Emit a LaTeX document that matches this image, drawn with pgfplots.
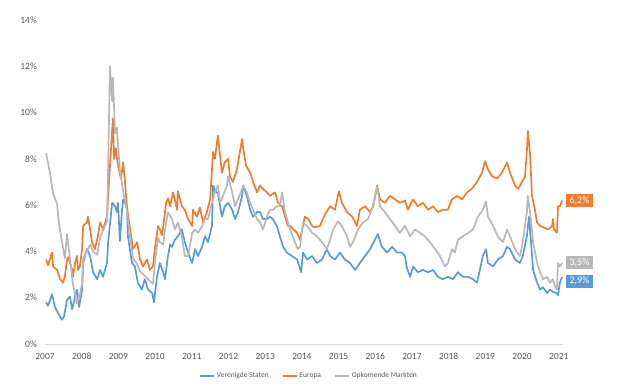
\documentclass[border=0pt]{standalone}
\usepackage{pgfplots}
\usepackage{pgfplotstable}
\pgfplotsset{compat=1.18}
\usepackage{fontspec}
\setmainfont{Carlito}
\definecolor{cblue}{HTML}{5B9BD5}
\definecolor{corange}{HTML}{ED7D31}
\definecolor{cgray}{HTML}{B8B8B8}
\definecolor{ctext}{HTML}{595959}
\definecolor{caxis}{HTML}{D9D9D9}

\pgfplotstableread{
x y
2007.03 1.80
2007.08 1.65
2007.19 2.15
2007.27 1.60
2007.35 1.35
2007.46 1.05
2007.52 1.20
2007.60 1.90
2007.68 2.05
2007.74 1.50
2007.82 2.05
2007.87 2.35
2007.93 1.60
2008.01 2.35
2008.04 3.50
2008.14 4.10
2008.23 3.80
2008.31 3.10
2008.42 2.80
2008.50 3.20
2008.58 2.90
2008.69 3.50
2008.72 4.40
2008.83 6.10
2008.91 5.95
2008.96 5.70
2008.99 6.10
2009.04 4.45
2009.10 5.80
2009.13 6.25
2009.23 5.95
2009.26 4.65
2009.37 3.50
2009.45 3.35
2009.53 2.65
2009.64 2.35
2009.72 2.80
2009.81 2.35
2009.92 2.20
2009.97 1.80
2010.05 2.90
2010.13 3.50
2010.22 3.10
2010.27 2.80
2010.35 3.80
2010.41 4.30
2010.46 4.20
2010.54 4.50
2010.62 4.65
2010.73 4.95
2010.81 4.40
2010.90 3.95
2011.01 3.50
2011.09 4.10
2011.17 3.80
2011.28 4.20
2011.36 4.65
2011.44 4.40
2011.55 5.10
2011.58 6.85
2011.66 6.55
2011.71 6.55
2011.82 5.50
2011.90 5.95
2011.99 6.10
2012.10 5.80
2012.18 5.40
2012.26 5.70
2012.37 6.40
2012.40 6.85
2012.50 6.40
2012.59 5.80
2012.67 5.50
2012.78 5.70
2012.86 5.70
2012.94 5.40
2013.05 5.40
2013.13 5.50
2013.21 5.40
2013.32 5.10
2013.40 4.65
2013.49 4.20
2013.59 3.95
2013.73 3.80
2013.87 3.65
2013.98 3.10
2014.03 3.95
2014.14 3.65
2014.28 3.80
2014.41 3.50
2014.55 3.65
2014.68 4.10
2014.77 3.80
2014.90 3.65
2015.04 3.95
2015.17 3.65
2015.31 3.50
2015.45 3.20
2015.58 3.50
2015.72 3.80
2015.86 4.10
2015.99 4.50
2016.07 4.75
2016.18 4.20
2016.32 3.95
2016.46 4.20
2016.59 3.95
2016.73 3.95
2016.81 3.80
2016.86 3.30
2016.95 2.90
2017.03 3.35
2017.16 3.10
2017.30 3.20
2017.44 3.10
2017.57 3.20
2017.71 2.90
2017.84 2.80
2017.98 2.90
2018.12 2.80
2018.25 3.10
2018.39 2.90
2018.53 2.90
2018.66 2.80
2018.77 2.65
2018.85 3.20
2018.93 3.80
2019.02 4.10
2019.07 3.50
2019.21 3.35
2019.34 3.65
2019.48 3.80
2019.59 4.20
2019.67 4.10
2019.81 3.65
2019.94 3.50
2020.02 3.80
2020.13 4.65
2020.19 5.50
2020.24 4.50
2020.30 3.20
2020.41 2.65
2020.49 2.35
2020.57 2.45
2020.68 2.20
2020.76 2.35
2020.84 2.25
2020.95 2.20
2020.98 2.10
2021.03 2.65
2021.09 2.90
}\usdata

\pgfplotstableread{
x y
2007.03 3.65
2007.08 3.40
2007.19 3.95
2007.22 3.35
2007.33 3.20
2007.41 2.80
2007.49 2.65
2007.54 2.90
2007.60 3.65
2007.63 3.75
2007.74 3.20
2007.76 2.90
2007.82 3.50
2007.87 3.80
2007.90 3.20
2007.95 3.35
2008.01 4.10
2008.04 5.10
2008.14 5.25
2008.17 5.50
2008.23 4.95
2008.28 4.40
2008.36 4.10
2008.44 4.65
2008.50 5.25
2008.58 4.95
2008.69 5.50
2008.72 6.40
2008.80 8.45
2008.85 9.75
2008.88 8.00
2008.93 8.45
2008.99 7.70
2009.07 7.15
2009.13 7.85
2009.18 7.00
2009.23 5.95
2009.32 4.95
2009.40 4.10
2009.51 4.40
2009.59 3.65
2009.67 3.35
2009.78 3.65
2009.86 3.20
2009.94 3.35
2010.00 4.20
2010.08 5.10
2010.13 4.95
2010.19 4.70
2010.24 5.30
2010.30 6.10
2010.35 6.30
2010.41 5.95
2010.49 6.55
2010.60 5.80
2010.62 6.60
2010.73 5.95
2010.81 5.80
2010.90 5.40
2011.01 5.10
2011.03 5.80
2011.14 5.50
2011.22 5.90
2011.31 5.25
2011.41 5.70
2011.50 6.25
2011.58 8.30
2011.63 8.00
2011.69 8.75
2011.71 9.00
2011.77 8.15
2011.82 7.40
2011.90 7.85
2011.99 8.00
2012.04 7.25
2012.12 7.00
2012.23 7.55
2012.31 8.30
2012.37 8.85
2012.40 8.45
2012.48 7.70
2012.59 7.40
2012.67 7.00
2012.78 6.55
2012.86 6.85
2012.94 6.70
2013.05 6.55
2013.13 6.40
2013.27 6.55
2013.35 6.10
2013.46 5.95
2013.54 5.50
2013.62 5.10
2013.68 5.10
2013.87 4.80
2013.95 4.50
2014.08 5.50
2014.17 5.40
2014.28 5.10
2014.36 5.05
2014.49 5.10
2014.63 5.60
2014.77 5.95
2014.90 5.80
2015.01 6.60
2015.09 6.10
2015.23 5.70
2015.37 5.50
2015.50 5.10
2015.58 5.80
2015.72 5.95
2015.86 5.70
2015.94 5.95
2016.05 6.85
2016.13 6.25
2016.26 6.10
2016.40 6.40
2016.54 6.25
2016.67 6.10
2016.81 6.20
2016.89 5.80
2017.03 6.25
2017.16 5.95
2017.30 6.10
2017.44 5.80
2017.57 5.95
2017.71 5.70
2017.84 5.80
2017.98 5.80
2018.09 6.25
2018.23 6.40
2018.36 6.25
2018.50 6.55
2018.63 6.70
2018.77 7.00
2018.91 7.40
2018.99 7.90
2019.07 7.55
2019.18 7.25
2019.32 7.15
2019.45 7.40
2019.59 7.85
2019.67 7.40
2019.81 6.85
2019.89 6.70
2020.00 7.00
2020.08 7.25
2020.13 8.30
2020.16 9.20
2020.22 8.15
2020.27 6.40
2020.35 5.80
2020.41 5.25
2020.49 5.10
2020.57 5.05
2020.71 4.95
2020.82 5.10
2020.84 5.40
2020.87 4.95
2020.95 4.80
2020.98 5.95
2021.03 5.95
2021.09 6.20
}\eudata

\pgfplotstableread{
x y
2007.03 8.25
2007.14 7.35
2007.22 6.50
2007.33 6.05
2007.38 5.20
2007.49 4.15
2007.54 3.70
2007.60 4.75
2007.68 3.70
2007.76 2.60
2007.87 1.75
2007.95 2.15
2008.01 2.60
2008.04 3.70
2008.14 4.00
2008.23 4.30
2008.31 4.00
2008.42 3.85
2008.50 4.60
2008.58 4.90
2008.69 5.30
2008.72 7.60
2008.77 12.00
2008.83 10.50
2008.85 11.50
2008.91 9.10
2008.96 9.35
2009.04 7.50
2009.13 6.60
2009.23 5.75
2009.32 4.60
2009.40 3.70
2009.51 3.45
2009.59 3.15
2009.78 2.85
2009.94 2.60
2010.00 3.60
2010.08 4.60
2010.13 4.40
2010.22 4.30
2010.27 4.95
2010.35 5.70
2010.46 5.40
2010.54 4.95
2010.62 5.25
2010.73 4.65
2010.81 3.80
2010.90 3.80
2011.01 4.80
2011.09 4.95
2011.17 4.80
2011.28 5.10
2011.36 5.40
2011.44 5.40
2011.55 6.10
2011.63 6.55
2011.71 6.85
2011.77 6.10
2011.85 6.40
2011.96 6.85
2011.99 7.25
2012.10 6.55
2012.18 5.95
2012.26 6.25
2012.37 6.70
2012.40 6.85
2012.50 6.55
2012.59 6.10
2012.67 5.80
2012.78 5.40
2012.86 5.25
2012.94 4.95
2013.05 5.50
2013.13 5.80
2013.21 5.80
2013.32 5.95
2013.40 5.95
2013.46 6.55
2013.54 5.70
2013.68 4.95
2013.81 4.40
2013.89 4.10
2013.95 4.20
2014.03 5.25
2014.14 5.10
2014.28 4.80
2014.41 4.65
2014.55 4.40
2014.68 4.10
2014.77 4.50
2014.85 4.95
2014.98 5.30
2015.09 5.10
2015.23 4.65
2015.31 4.20
2015.39 4.40
2015.53 4.95
2015.66 5.25
2015.80 5.40
2015.94 5.95
2016.05 6.80
2016.13 5.95
2016.26 5.70
2016.40 5.40
2016.54 5.10
2016.67 4.80
2016.81 5.10
2016.95 4.65
2017.08 4.95
2017.22 4.80
2017.35 4.65
2017.49 4.40
2017.63 4.10
2017.76 3.80
2017.90 3.35
2017.98 3.50
2018.09 4.10
2018.17 3.95
2018.25 4.50
2018.39 4.65
2018.53 4.80
2018.66 4.95
2018.80 5.50
2018.93 5.80
2019.02 6.15
2019.07 5.50
2019.21 5.10
2019.34 4.65
2019.48 4.40
2019.59 4.95
2019.67 4.65
2019.81 4.10
2019.94 3.80
2020.02 4.40
2020.13 5.70
2020.16 6.40
2020.24 5.40
2020.30 4.40
2020.41 3.50
2020.49 3.10
2020.57 2.80
2020.68 2.90
2020.76 2.65
2020.84 2.80
2020.90 2.50
2020.95 2.35
2020.98 3.50
2021.03 3.35
2021.09 3.50
}\emdata

\begin{document}
\begin{tikzpicture}[x=1pt,y=1pt]
\path[use as bounding box] (0,0) rectangle (620,389);
\begin{axis}[
  at={(45pt,45pt)}, anchor=south west,
  scale only axis, width=517.8pt, height=324pt,
  xmin=2007, xmax=2021.11, ymin=0, ymax=14,
  clip=false,
  axis x line*=bottom, axis y line*=left,
  x axis line style={draw=caxis, line width=0.8pt, -},
  y axis line style={draw=none},
  major tick length=0pt,
  xtick={2007,2008,...,2021},
  ytick={0,2,...,14},
  xticklabel={\pgfmathprintnumber[1000 sep={}, precision=0, fixed]{\tick}},
  yticklabel={\pgfmathprintnumber[fixed,precision=0]{\tick}\%},
  /pgf/number format/assume math mode=true,
  tick label style={font=\fontsize{9.5}{10}\selectfont, text=ctext, inner sep=0pt},
  xticklabel style={anchor=north, yshift=-9pt},
  yticklabel style={anchor=east, xshift=-8pt},
  legend style={at={(0.51,-0.099)}, anchor=center, draw=none, fill=none,
    font=\fontsize{7.5}{8}\selectfont, text=ctext, legend columns=3,
    /tikz/every even column/.append style={column sep=11pt},
    inner sep=0pt},
  legend image code/.code={\draw[#1,line width=1.7pt] (0pt,0pt) -- (14pt,0pt);},
  every axis plot/.append style={line width=1.7pt, line join=round},
]
\addplot[cblue, no markers] table[x=x,y=y] {\usdata};
\addlegendentry{Verenigde Staten}
\addplot[corange, no markers] table[x=x,y=y] {\eudata};
\addlegendentry{Europa}
\addplot[cgray, no markers] table[x=x,y=y] {\emdata};
\addlegendentry{Opkomende Markten}
\node[fill=corange, text=white, font=\fontsize{10}{11}\selectfont, inner xsep=3.5pt, inner ysep=0pt, minimum height=13pt, anchor=west] at (axis cs:2021.196,6.18) {6,2\%};
\node[fill=cgray, text=white, font=\fontsize{10}{11}\selectfont, inner xsep=3.5pt, inner ysep=0pt, minimum height=13pt, anchor=west] at (axis cs:2021.196,3.53) {3,5\%};
\node[fill=cblue, text=white, font=\fontsize{10}{11}\selectfont, inner xsep=3.5pt, inner ysep=0pt, minimum height=13pt, anchor=west] at (axis cs:2021.196,2.72) {2,9\%};
\end{axis}
\end{tikzpicture}
\end{document}
